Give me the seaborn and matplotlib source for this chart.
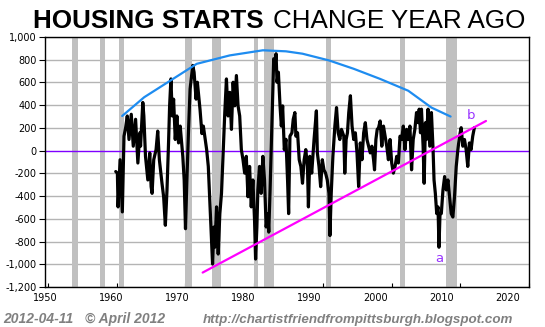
import matplotlib
matplotlib.use("Agg")
import matplotlib.pyplot as plt
import matplotlib.ticker as mticker
import seaborn as sns
import pandas as pd
import numpy as np

# ---------------- data ----------------
years = [
    1959.86, 1960.10, 1960.20, 1960.49, 1960.82, 1961.06, 1961.30, 1961.54, 1961.79, 1962.12,
    1962.41, 1962.75, 1963.08, 1963.37, 1963.47, 1963.80, 1963.95, 1964.19, 1964.53, 1964.81,
    1965.01, 1965.15, 1965.39, 1965.73, 1965.97, 1966.21, 1966.59, 1966.83, 1967.08, 1967.32,
    1967.56, 1967.70, 1967.89, 1968.09, 1968.28, 1968.52, 1968.76, 1969.00, 1969.24, 1969.62,
    1969.82, 1970.01, 1970.20, 1970.44, 1970.68, 1971.07, 1971.26, 1971.55, 1971.74, 1972.13,
    1972.40, 1972.61, 1973.09, 1973.33, 1973.57, 1973.81, 1973.95, 1974.15, 1974.29, 1974.53,
    1974.77, 1975.01, 1975.25, 1975.49, 1975.73, 1975.97, 1976.21, 1976.46, 1976.70, 1976.94,
    1977.18, 1977.42, 1977.66, 1977.90, 1978.14, 1978.38, 1978.62, 1978.86, 1979.10, 1979.34,
    1979.58, 1979.82, 1980.06, 1980.21, 1980.40, 1980.54, 1980.78, 1981.02, 1981.27, 1981.51,
    1981.75, 1981.99, 1982.13, 1982.32, 1982.52, 1982.71, 1982.85, 1983.04, 1983.19, 1983.33,
    1983.53, 1983.77, 1983.96, 1984.15, 1984.39, 1984.63, 1984.87, 1985.02, 1985.21, 1985.50,
    1985.69, 1985.93, 1986.08, 1986.32, 1986.56, 1986.80, 1987.04, 1987.28, 1987.52, 1987.76,
    1987.90, 1988.10, 1988.38, 1988.72, 1989.06, 1989.20, 1989.44, 1989.68, 1989.92, 1990.16,
    1990.40, 1990.64, 1990.89, 1991.03, 1991.22, 1991.46, 1991.75, 1991.99, 1992.23, 1992.47,
    1992.71, 1993.05, 1993.19, 1993.39, 1993.58, 1993.77, 1994.01, 1994.25, 1994.49, 1994.73,
    1994.97, 1995.21, 1995.45, 1995.69, 1995.94, 1996.18, 1996.42, 1996.66, 1996.90, 1997.14,
    1997.38, 1997.52, 1997.72, 1997.91, 1998.10, 1998.34, 1998.58, 1998.82, 1999.06, 1999.30,
    1999.54, 1999.78, 2000.02, 2000.26, 2000.51, 2000.75, 2000.99, 2001.23, 2001.47, 2001.71,
    2001.95, 2002.19, 2002.43, 2002.67, 2002.91, 2003.15, 2003.39, 2003.63, 2003.87, 2004.02,
    2004.21, 2004.35, 2004.59, 2004.74, 2004.93, 2005.07, 2005.31, 2005.56, 2005.80, 2006.04,
    2006.18, 2006.37, 2006.57, 2006.76, 2006.90, 2007.05, 2007.24, 2007.48, 2007.72, 2007.96,
    2008.20, 2008.44, 2008.68, 2008.92, 2009.16, 2009.41, 2009.65, 2009.89, 2010.13, 2010.37,
    2010.61, 2010.85, 2011.09, 2011.33, 2011.57, 2011.81, 2012.05,
]
change = [
    -184, -198, -495, -80, -539, 127, 202, 305, 98, 320,
    39, 276, -109, 157, 39, 424, 305, -50, -258, -20,
    -317, -376, -80, 9, 172, -80, -287, -406, -657, -346,
    98, 394, 631, 305, 453, 98, 305, 68, 216, -50,
    -258, -687, -287, 157, 542, 750, 690, 453, 602, 360,
    150, 216, 9, -139, -465, -791, -998, -672, -850, -495,
    -910, -554, -376, -20, 335, 631, 305, 513, 187, 602,
    394, 661, 394, 305, 9, -80, -198, -50, -406, -139,
    -495, -258, -613, -954, -672, -346, -139, -376, -50, -258,
    -672, -554, -717, -346, 98, 513, 809, 750, 853, 602,
    690, 394, 216, 394, 9, 100, -270, -554, 127, 157,
    276, 335, 127, 157, -80, -139, -287, -80, 9, -139,
    -495, -50, -198, 98, 350, -20, -139, -317, -80, -169,
    -198, -258, -376, -747, -376, -50, 216, 379, 157, 98,
    187, 127, -198, 98, 157, 335, 483, 216, 98, 157,
    -20, -317, 68, -80, 157, 246, 98, 39, -20, 39,
    -80, -169, 98, 187, 200, 261, 39, 216, 127, 39,
    -80, 98, -109, -198, -139, -50, -109, 127, 98, 216,
    9, 187, 98, 216, -169, 98, 187, 335, 246, 365,
    157, 365, 39, -287, 246, 98, 365, 39, 335, 9,
    -258, -376, -554, -495, -850, -554, -554, -346, -228, -346,
    -258, -406, -554, -584, -406, -139, 9, 127, 202, 39,
    98, 9, -139, 68, 9, 127, 202,
]

# upper (blue) arc
arc_years = [1960.8, 1964.0, 1967.8, 1971.65, 1976.45, 1981.27, 1984.63, 1987.04,
             1990.89, 1994.5, 1998.34, 2002.43, 2005.80, 2008.59]
arc_values = [305, 470, 616, 764, 838, 883, 874, 853, 794, 720, 631, 527, 379, 300]

# lower (magenta) trend line
trend_years = [1972.51, 2013.74]
trend_values = [-1073, 261]

# NBER recessions
rec_start = [1953.5, 1957.6, 1960.3, 1969.9, 1973.9, 1980.0, 1981.5, 1990.5, 2001.2, 2007.9]
rec_end = [1954.4, 1958.3, 1961.1, 1970.9, 1975.2, 1980.5, 1982.9, 1991.2, 2001.9, 2009.5]

x_ticks = [1950, 1960, 1970, 1980, 1990, 2000, 2010, 2020]
y_ticks = [1000, 800, 600, 400, 200, 0, -200, -400, -600, -800, -1000, -1200]

title_bold = "HOUSING STARTS"
title_rest = "CHANGE YEAR AGO"
footer_date = "2012-04-11"
footer_copy = "\u00a9 April 2012"
footer_url = "http://chartistfriendfrompittsburgh.blogspot.com"

# ---------------- drawing ----------------
sns.set_theme(style="white")
plt.rcParams["font.family"] = ["DejaVu Sans"]

W, H = 545, 327
fig = plt.figure(figsize=(W / 100, H / 100), dpi=100)
ax = fig.add_axes([45 / W, 1 - 287 / H, (529 - 45) / W, (287 - 37) / H])

ax.set_xlim(1950, 2020)
ax.set_ylim(-1200, 1000)

for s, e in zip(rec_start, rec_end):
    ax.axvspan(s, e, color="#c0c0c0", lw=0, zorder=1)

for v in y_ticks:
    if v != 0:
        ax.axhline(v, color="#b4b4b4", lw=1.0, zorder=0.5)
ax.axhline(0, color="#7f00ff", lw=1.0, zorder=1.5)

df = pd.DataFrame({"year": years, "change": change})
sns.lineplot(data=df, x="year", y="change", ax=ax, color="black", lw=2.3,
             estimator=None, sort=False, zorder=3)

arc = pd.DataFrame({"year": arc_years, "value": arc_values})
sns.lineplot(data=arc, x="year", y="value", ax=ax, color="#1e8cf0", lw=1.6,
             estimator=None, sort=False, zorder=4)

tr = pd.DataFrame({"year": trend_years, "value": trend_values})
sns.lineplot(data=tr, x="year", y="value", ax=ax, color="#ff00ff", lw=1.6,
             estimator=None, sort=False, zorder=4)

ax.text(2006.9, -950, "a", color="#9933ff", fontsize=9.5, ha="center", va="center", zorder=5)
ax.text(2011.6, 305, "b", color="#9933ff", fontsize=9.5, ha="center", va="center", zorder=5)

ax.set_xlabel("")
ax.set_ylabel("")

# y axis
ax.set_yticks(y_ticks)
ax.yaxis.set_major_formatter(mticker.FuncFormatter(lambda v, p: f"{int(v):,}"))
ax.tick_params(axis="y", direction="out", length=4, width=0.8, color="black",
               labelsize=7, pad=2, labelcolor="black", left=True)

# x axis: small inward tick marks at decades, labels slightly shifted left as in reference
ax.set_xticks(x_ticks)
ax.set_xticklabels([])
ax.tick_params(axis="x", which="major", direction="in", length=3, width=0.8,
               color="black", bottom=True)
px_per_year = (529 - 45) / 70.0
label_pos = [t - (3 + 0.27 * (t - 1950)) / px_per_year for t in x_ticks]
ax.set_xticks(label_pos, minor=True)
ax.set_xticklabels([str(t) for t in x_ticks], minor=True)
ax.tick_params(axis="x", which="minor", length=0, labelsize=7, pad=4, labelcolor="black")

for sp in ax.spines.values():
    sp.set_visible(True)
    sp.set_color("black")
    sp.set_linewidth(1.0)
ax.set_facecolor("white")

# title
tfam = ["Liberation Sans", "DejaVu Sans"]
fig.text(33 / W, 1 - 28 / H, title_bold, fontsize=18.7, fontweight="bold",
         family=tfam, va="baseline", ha="left", color="black")
fig.text(525 / W, 1 - 28 / H, title_rest, fontsize=18.7, family=tfam,
         va="baseline", ha="right", color="black")

# footer
ffam = ["Liberation Sans", "DejaVu Sans"]
fcol = "#808080"
fig.text(3 / W, 1 - 323 / H, footer_date, fontsize=10, fontweight="bold",
         style="italic", family=ffam, color=fcol, va="baseline", ha="left")
fig.text(85 / W, 1 - 323 / H, footer_copy, fontsize=10, fontweight="bold", style="italic",
         family=ffam, color=fcol, va="baseline", ha="left")
fig.text(513 / W, 1 - 323 / H, footer_url, fontsize=9.6, fontweight="bold",
         style="italic", family=ffam, color=fcol, va="baseline", ha="right")

fig.savefig("out.png", dpi=100, facecolor="white")
